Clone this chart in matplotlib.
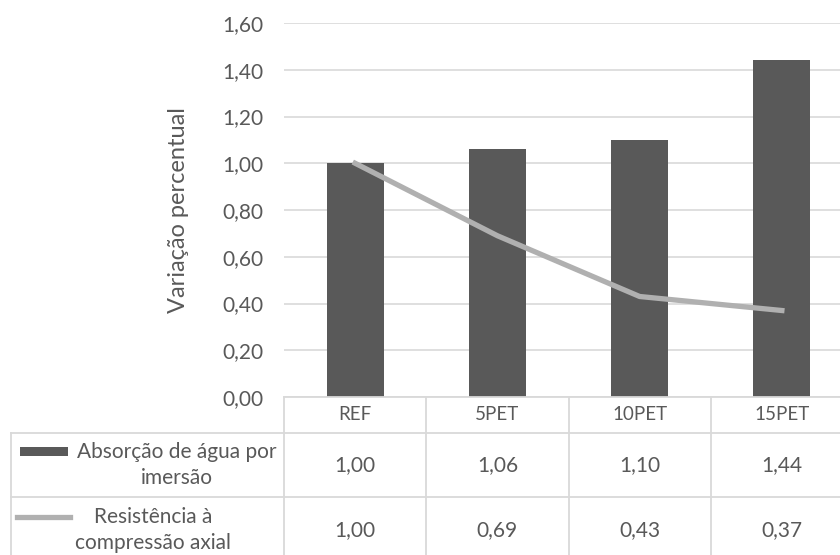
import matplotlib
matplotlib.use("Agg")
import matplotlib.pyplot as plt
from matplotlib.transforms import blended_transform_factory
from matplotlib.patches import Rectangle
from matplotlib.lines import Line2D

# data
categories = ["REF", "5PET", "10PET", "15PET"]
absorcao = [1.00, 1.06, 1.10, 1.44]
resistencia = [1.00, 0.69, 0.43, 0.37]
series_names = ["Absorção de água por\nimersão", "Resistência à\ncompressão axial"]
yticks = [0.0, 0.2, 0.4, 0.6, 0.8, 1.0, 1.2, 1.4, 1.6]

bar_color = "#595959"
line_color = "#b0b0b0"
text_color = "#595959"
grid_color = "#d9d9d9"

plt.rcParams["font.family"] = ["Lato", "DejaVu Sans"]

W, H = 840, 555
fig = plt.figure(figsize=(W / 100, H / 100), dpi=100)
# plot area runs off the right edge like the cropped original
left, right, top, bottom = 284, 853, 23, 397
ax = fig.add_axes([left / W, 1 - bottom / H, (right - left) / W, (bottom - top) / H])

x = list(range(len(categories)))
ax.bar(x, absorcao, width=0.40, color=bar_color, zorder=2)
ax.plot(x, resistencia, color=line_color, lw=3.8, zorder=3)

ax.set_xlim(-0.5, len(categories) - 0.5)
ax.set_ylim(0, 1.6)
ax.set_yticks(yticks)
ax.set_yticklabels([f"{v:.2f}".replace(".", ",") for v in yticks], fontsize=15, color=text_color)
ax.tick_params(axis="y", length=0, pad=15)
ax.set_xticks([])
ax.yaxis.grid(True, color=grid_color, lw=1.2, zorder=0)
for s in ax.spines.values():
    s.set_visible(False)
ax.set_ylabel("Variação percentual", fontsize=17, color=text_color, labelpad=24)

# data table under the plot
tr = blended_transform_factory(ax.transData, ax.transAxes)
px = 1.0 / (bottom - top)  # one pixel in axes units
row_edges = [0, -36 * px, -100 * px, -166 * px]
head_left = -0.5 - (left - 11) / ((right - left) / len(categories))
lk = dict(color=grid_color, lw=1.3, transform=tr, clip_on=False)

# horizontal lines
ax.add_line(Line2D([-0.5, len(categories) - 0.5], [row_edges[0]] * 2, **lk))
for ye in row_edges[1:]:
    ax.add_line(Line2D([head_left, len(categories) - 0.5], [ye] * 2, **lk))
# vertical lines
for xv in [i - 0.5 for i in range(len(categories) + 1)]:
    ax.add_line(Line2D([xv, xv], [row_edges[0], row_edges[-1]], **lk))
ax.add_line(Line2D([head_left, head_left], [row_edges[1], row_edges[-1]], **lk))

tk = dict(transform=tr, ha="center", va="center", color=text_color, clip_on=False)
for i, c in enumerate(categories):
    ax.text(i, (row_edges[0] + row_edges[1]) / 2, c, fontsize=13.5, **tk)
for r, vals in enumerate([absorcao, resistencia]):
    yc = (row_edges[r + 1] + row_edges[r + 2]) / 2
    for i, v in enumerate(vals):
        ax.text(i, yc, f"{v:.2f}".replace(".", ","), fontsize=15, **tk)

# row headers with legend keys
ppx = 1.0 / ((right - left) / len(categories))  # one pixel in data units
y1 = (row_edges[1] + row_edges[2]) / 2
y2 = (row_edges[2] + row_edges[3]) / 2
ax.add_patch(Rectangle((head_left + 9 * ppx, y1 + 9 * px), 48 * ppx, 9 * px,
                       facecolor=bar_color, transform=tr, clip_on=False))
ax.text(head_left + 166 * ppx, y1, series_names[0], fontsize=15, linespacing=1.35, **tk)
ax.add_line(Line2D([head_left + 6 * ppx, head_left + 59 * ppx], [y2 + 13 * px] * 2,
                   color=line_color, lw=3.8, transform=tr, clip_on=False))
ax.text(head_left + 142 * ppx, y2, series_names[1], fontsize=15, linespacing=1.35, **tk)

fig.savefig("out.png", dpi=100)
